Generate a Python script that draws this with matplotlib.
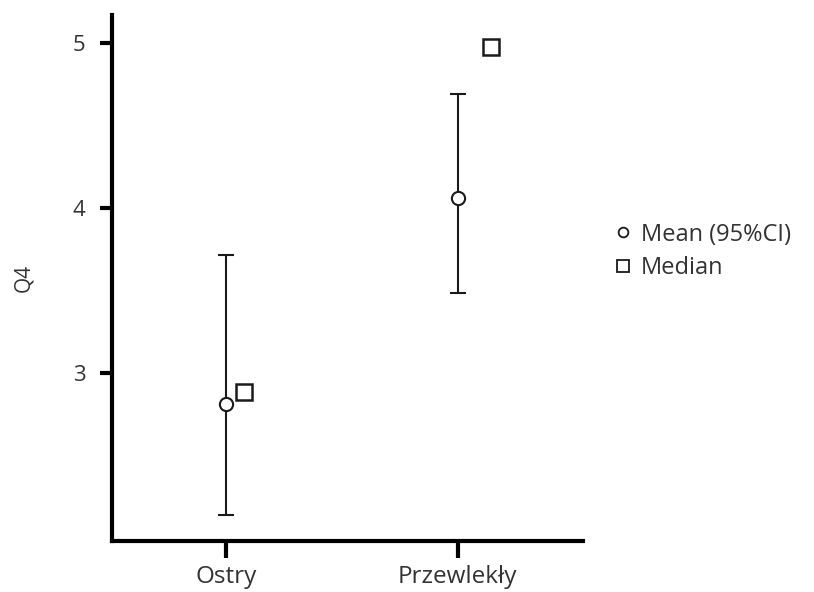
import matplotlib.pyplot as plt
from matplotlib.lines import Line2D

plt.rcParams['font.family'] = ['Open Sans', 'DejaVu Sans']

# dane
groups = ["Ostry", "Przewlekły"]
mean = [2.81, 4.06]
ci_low = [2.14, 3.485]
ci_high = [3.715, 4.69]
median = [2.885, 4.975]

txt = "#333333"

fig = plt.figure(figsize=(8.14, 5.92), dpi=100)
ax = fig.add_axes([0.1376, 0.0861, 0.5786, 0.8886])

x = list(range(len(groups)))
med_off = [0.08, 0.145]

err = [[m - lo for m, lo in zip(mean, ci_low)],
       [hi - m for m, hi in zip(mean, ci_high)]]
ax.errorbar(x, mean, yerr=err, fmt='o', color='#1a1a1a', ecolor='#1a1a1a',
            elinewidth=1.5, capsize=5.5, capthick=1.5,
            markersize=9.5, markerfacecolor='white', markeredgewidth=1.5, zorder=3)
ax.plot([xi + o for xi, o in zip(x, med_off)], median, 's', color='#1a1a1a',
        markersize=11, markerfacecolor='white', markeredgewidth=1.8, zorder=3)

ax.set_xlim(-0.49, 1.54)
ax.set_ylim(1.98, 5.17)
ax.set_xticks(x)
ax.set_xticklabels(groups)
ax.set_yticks([3, 4, 5])

for s in ["top", "right"]:
    ax.spines[s].set_visible(False)
for s in ["left", "bottom"]:
    ax.spines[s].set_linewidth(3)
ax.tick_params(axis='x', width=3, length=12.5, labelsize=17.5, labelcolor=txt, pad=5)
ax.tick_params(axis='y', width=3, length=9, labelsize=16, labelcolor=txt, pad=10)
ax.set_ylabel("Q4", fontsize=15, color=txt, labelpad=28)

handles = [
    Line2D([], [], marker='o', linestyle='none', color='#1a1a1a',
           markerfacecolor='white', markersize=7, markeredgewidth=1.3),
    Line2D([], [], marker='s', linestyle='none', color='#1a1a1a',
           markerfacecolor='white', markersize=9, markeredgewidth=1.3),
]
fig.legend(handles, ["Mean (95%CI)", "Median"], loc='upper left',
           bbox_to_anchor=(0.728, 0.66), frameon=False, fontsize=17,
           handlelength=0.8, handletextpad=0.35, labelspacing=0.4,
           labelcolor=txt)

fig.savefig("out.png", dpi=100)
